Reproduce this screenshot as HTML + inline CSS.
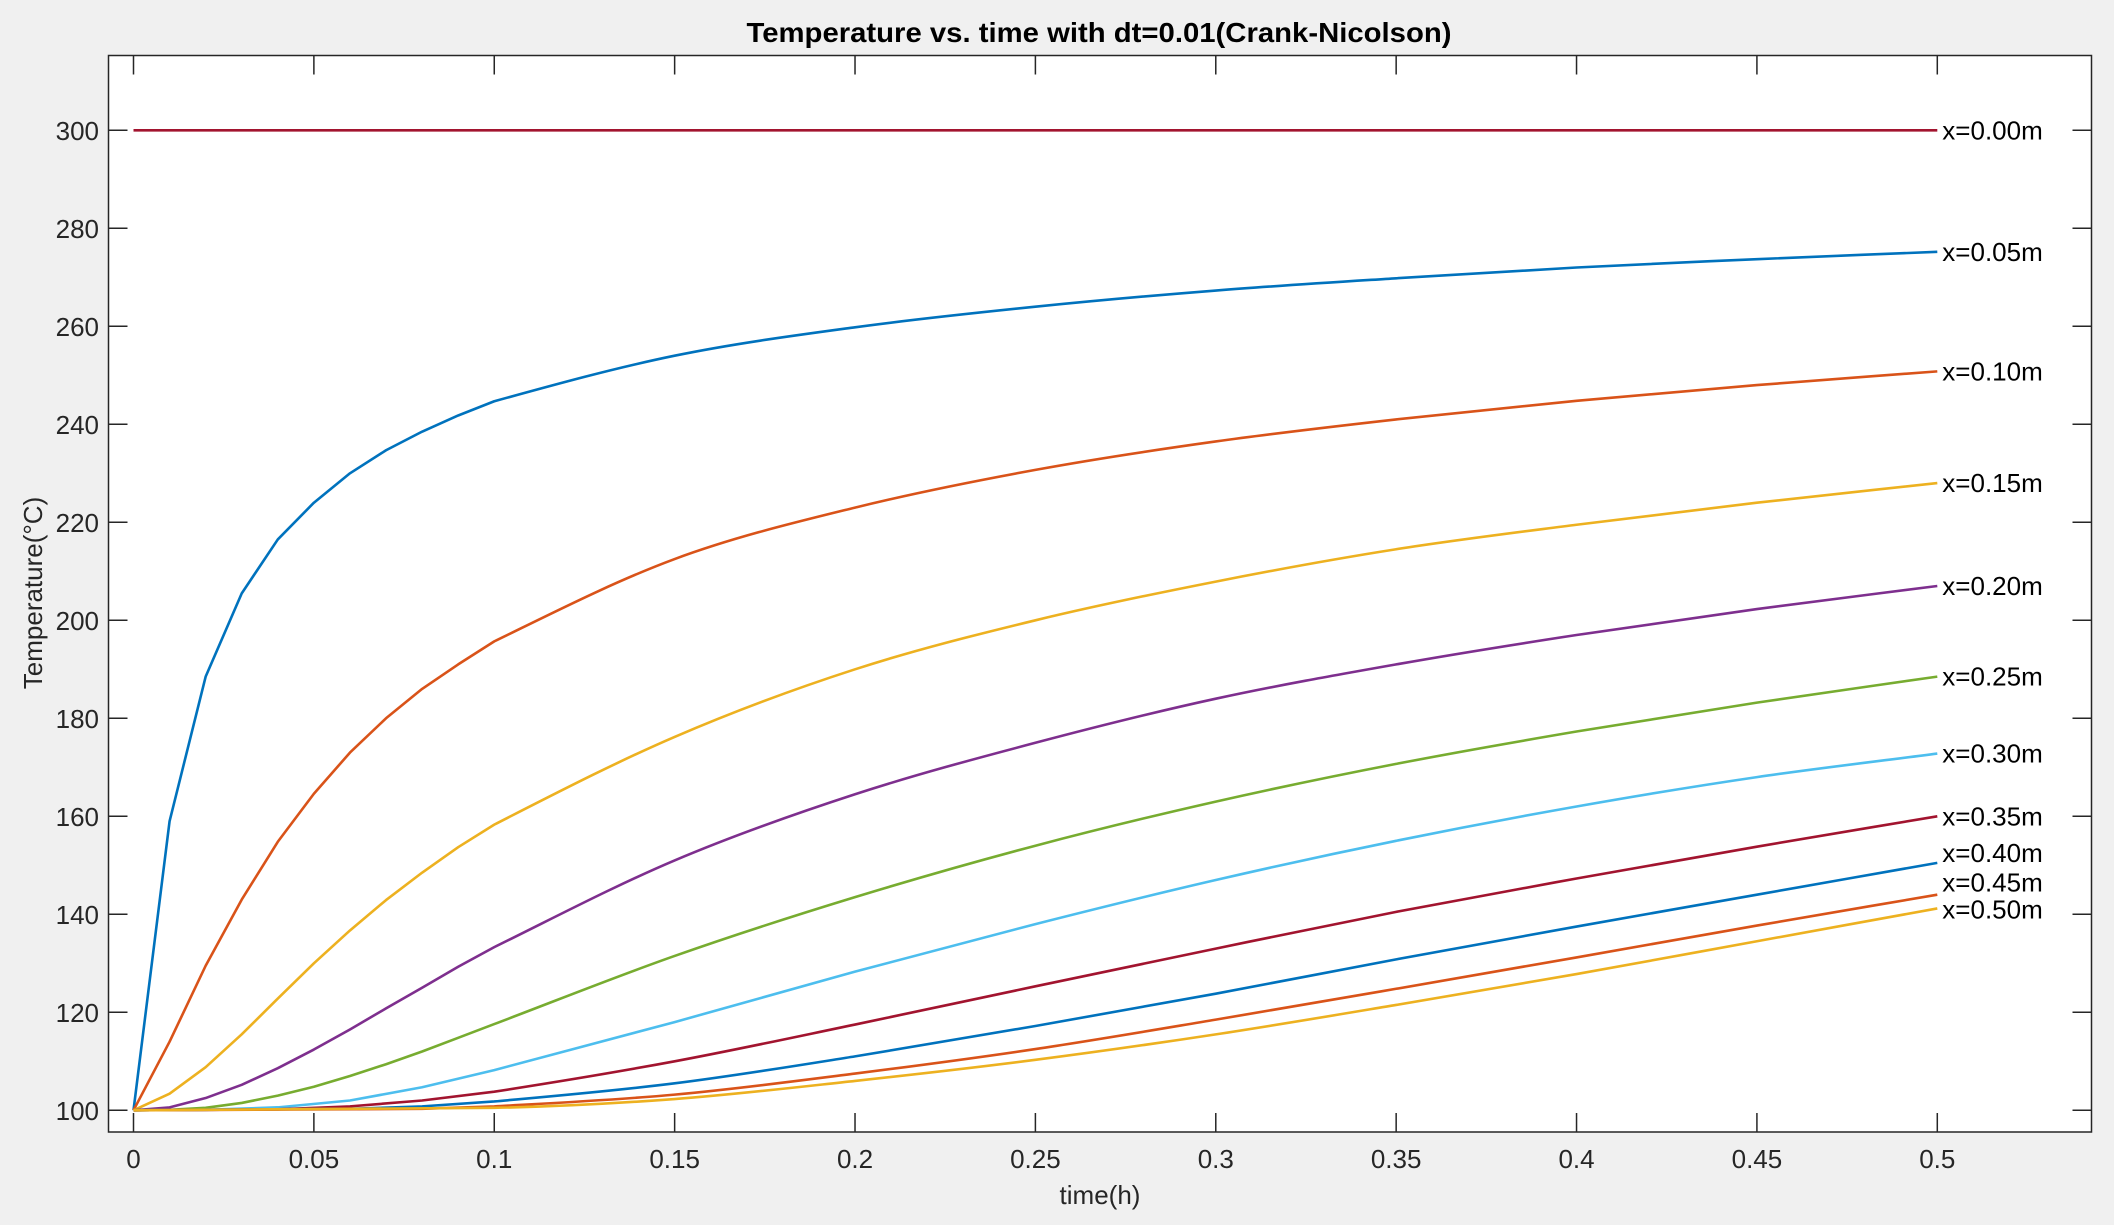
<!DOCTYPE html>
<html><head><meta charset="utf-8"><title>Temperature vs time</title>
<style>
html,body{margin:0;padding:0;background:#f0f0f0;}
svg{display:block;font-family:"Liberation Sans",sans-serif;}
</style></head>
<body>
<svg id="chart" width="2114" height="1225" viewBox="0 0 2114 1225" xmlns="http://www.w3.org/2000/svg">
<rect x="0" y="0" width="2114" height="1225" fill="#f0f0f0"/>
<rect x="108.5" y="55.5" width="1983" height="1076.5" fill="#ffffff"/>
<g id="series"></g>
<g id="axes"></g>
<rect x="108.5" y="55.5" width="1983" height="1076.5" fill="none" stroke="#262626" stroke-width="1.5"/>
<text x="1099" y="42" text-anchor="middle" font-size="28" font-weight="bold" textLength="705" lengthAdjust="spacingAndGlyphs" fill="#000">Temperature vs. time with dt=0.01(Crank-Nicolson)</text>
<text x="1100" y="1204" text-anchor="middle" font-size="26" fill="#262626">time(h)</text>
<text x="0" y="0" transform="translate(42,593) rotate(-90)" text-anchor="middle" font-size="26" fill="#262626">Temperature(°C)</text>
</svg>
<script>
const xTicks=[0,0.05,0.1,0.15,0.2,0.25,0.3,0.35,0.4,0.45,0.5];
const xTickLabels=["0","0.05","0.1","0.15","0.2","0.25","0.3","0.35","0.4","0.45","0.5"];
const yTicks=[100,120,140,160,180,200,220,240,260,280,300];
const yTickLabels=["100","120","140","160","180","200","220","240","260","280","300"];
const seriesNames=["x=0.00m","x=0.05m","x=0.10m","x=0.15m","x=0.20m","x=0.25m","x=0.30m","x=0.35m","x=0.40m","x=0.45m","x=0.50m"];
const tDense=[0,0.01,0.02,0.03,0.04,0.05,0.06,0.07,0.08,0.09,0.1,0.15,0.2,0.25,0.3,0.35,0.4,0.45,0.5];
const t00=[0,0.5];
const v00=[300,300];
const v05=[100,159,188.5,205.5,216.5,224,230,234.7,238.5,241.8,244.7,254,259.8,264,267.3,269.8,272,273.7,275.2];
const v10=[100,114,129.5,143,154.8,164.6,173,180,186,191,195.7,212.5,223,230.7,236.5,241,244.8,248,250.8];
const v15=[100,103.4,108.8,115.5,122.8,130,136.7,142.9,148.5,153.7,158.3,176.2,190,200,207.9,214.5,219.5,224,228];
const v20=[100,100.6,102.5,105.2,108.6,112.4,116.5,120.8,125,129.3,133.3,151,164.5,175,184,191,197,202.3,207];
const v25=[100,100.1,100.5,101.5,103,104.8,107,109.4,112,114.8,117.6,131.5,143.5,154,163,170.7,177.3,183.2,188.5];
const t30=[0,0.02,0.04,0.06,0.08,0.1,0.15,0.2,0.25,0.3,0.35,0.4,0.45,0.5];
const v30=[100,100.1,100.6,102,104.7,108.2,118,128.3,138,147,155,162,168,172.8];
const t35=[0,0.04,0.06,0.08,0.1,0.15,0.2,0.25,0.3,0.35,0.4,0.45,0.5];
const v35=[100,100.2,100.8,102,103.8,110,117.5,125.3,133,140.5,147.3,153.8,160];
const t40=[0,0.06,0.08,0.1,0.15,0.2,0.25,0.3,0.35,0.4,0.45,0.5];
const v40=[100,100.3,100.8,101.8,105.5,111,117.2,123.8,130.8,137.5,144,150.5];
const t45=[0,0.08,0.1,0.15,0.2,0.25,0.3,0.35,0.4,0.45,0.5];
const v45=[100,100.3,100.8,103.2,107.5,112.5,118.5,124.8,131.2,137.7,144];
const t50=[0,0.1,0.15,0.2,0.25,0.3,0.35,0.4,0.45,0.5];
const v50=[100,100.5,102.3,106,110.3,115.5,121.5,127.8,134.5,141.2];
const labelVals=[300,275.2,250.8,228,207,188.5,172.8,160,152.5,146.5,141];

const colors=["#a2142f","#0072bd","#d95319","#edb120","#7e2f8e","#77ac30","#4dbeee","#a2142f","#0072bd","#d95319","#edb120"];
const X0=133.5, X1=1937.3, Y100=1110.3, Y300=130.3;
function sx(t){return X0+(t-0)/(0.5-0)*(X1-X0);}
function sy(v){return Y100+(v-100)/(300-100)*(Y300-Y100);}
const NS="http://www.w3.org/2000/svg";
const sg=document.getElementById('series');
const ag=document.getElementById('axes');
const allT=[t00,tDense,tDense,tDense,tDense,tDense,t30,t35,t40,t45,t50];
const allV=[v00,v05,v10,v15,v20,v25,v30,v35,v40,v45,v50];
function smoothPath(pts){
  let d='M'+pts[0][0].toFixed(2)+','+pts[0][1].toFixed(2);
  for(let i=0;i<pts.length-1;i++){
    const p1=pts[i],p2=pts[i+1];
    if(p2[0]-p1[0]<100||i===0){d+='L'+p2[0].toFixed(2)+','+p2[1].toFixed(2);continue;}
    const p0=pts[Math.max(0,i-1)],p3=pts[Math.min(pts.length-1,i+2)];
    const h=p2[0]-p1[0];
    // tangent slopes (per px) from neighbours
    const m1=(p2[1]-p0[1])/(p2[0]-p0[0]);
    const m2=(p3[1]-p1[1])/((p3[0]-p1[0])||1);
    const c1x=p1[0]+h/3,c1y=p1[1]+m1*h/3;
    const c2x=p2[0]-h/3,c2y=p2[1]-m2*h/3;
    d+='C'+c1x.toFixed(2)+','+c1y.toFixed(2)+' '+c2x.toFixed(2)+','+c2y.toFixed(2)+' '+p2[0].toFixed(2)+','+p2[1].toFixed(2);
  }
  return d;
}
for(let i=0;i<allV.length;i++){
  const p=document.createElementNS(NS,'path');
  p.setAttribute('d',smoothPath(allT[i].map((t,j)=>[sx(t),sy(allV[i][j])])));
  p.setAttribute('fill','none');p.setAttribute('stroke',colors[i]);p.setAttribute('stroke-width','2.6');
  p.setAttribute('stroke-linejoin','round');
  
  
  sg.appendChild(p);
  const tx=document.createElementNS(NS,'text');
  tx.setAttribute('x',sx(0.5)+5);tx.setAttribute('y',sy(labelVals[i])+9);
  tx.setAttribute('font-size','26');tx.setAttribute('fill','#000');
  tx.textContent=seriesNames[i];
  
  
  sg.appendChild(tx);
}
const L=108.5,R=2091.5,T=55.5,B=1132,TL=19;
for(let i=0;i<xTicks.length;i++){
  const x=sx(xTicks[i]);
  const tk=document.createElementNS(NS,'path');
  tk.setAttribute('d',`M${x},${B}V${B-TL}M${x},${T}V${T+TL}`);
  tk.setAttribute('stroke','#262626');tk.setAttribute('stroke-width','1.5');
  
  
  ag.appendChild(tk);
  const lb=document.createElementNS(NS,'text');
  lb.setAttribute('x',x);lb.setAttribute('y',1168);lb.setAttribute('text-anchor','middle');
  lb.setAttribute('font-size','26');lb.setAttribute('fill','#262626');
  lb.textContent=xTickLabels[i];
  
  
  ag.appendChild(lb);
}
for(let i=0;i<yTicks.length;i++){
  const y=sy(yTicks[i]);
  const tk=document.createElementNS(NS,'path');
  tk.setAttribute('d',`M${L},${y}H${L+TL}M${R},${y}H${R-TL}`);
  tk.setAttribute('stroke','#262626');tk.setAttribute('stroke-width','1.5');
  
  
  ag.appendChild(tk);
  const lb=document.createElementNS(NS,'text');
  lb.setAttribute('x',99);lb.setAttribute('y',y+9.5);lb.setAttribute('text-anchor','end');
  lb.setAttribute('font-size','26');lb.setAttribute('fill','#262626');
  lb.textContent=yTickLabels[i];
  
  
  ag.appendChild(lb);
}
</script>
</body></html>
